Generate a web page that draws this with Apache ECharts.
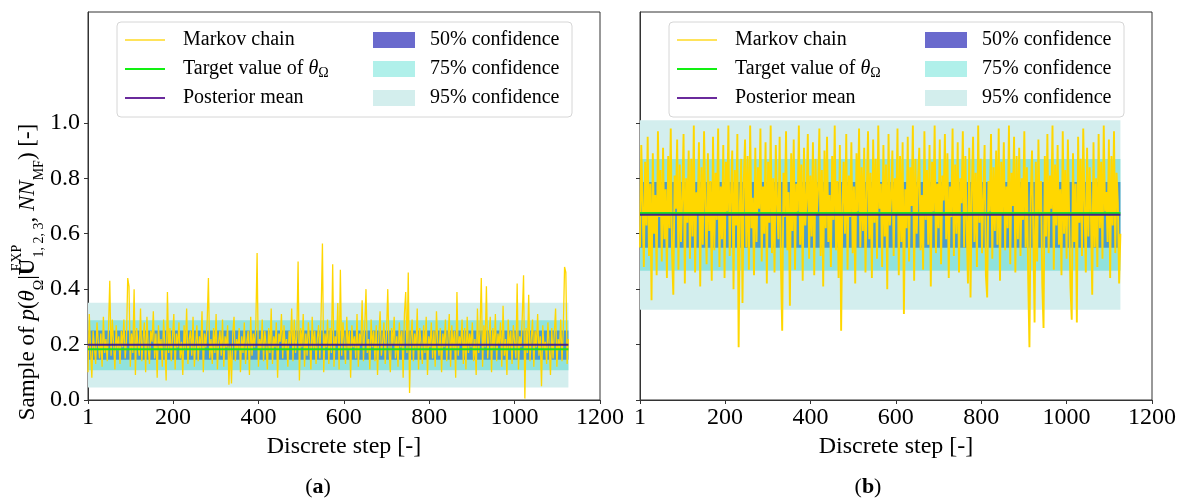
<!DOCTYPE html>
<html>
<head>
<meta charset="utf-8">
<script src="https://cdn.jsdelivr.net/npm/echarts@6/dist/echarts.min.js"></script>
<style>
  html, body { margin: 0; background: #fff; }
  #chart { width: 1182px; height: 500px; }
</style>
</head>
<body>
<div id="chart"></div>
<script>
/* MCMC trace plots (a) / (b): chain + confidence bands + target / posterior mean */
(function () {
  'use strict';

  // chain values, read every 3rd step (step = 1, 4, 7, ...)
  var STEP_EVERY = 3;
  var chainA = [
    0.10,0.31,0.18,0.08,0.25,0.19,0.13,0.28,0.21,0.15,0.24,0.12,0.30,0.17,0.22,0.14,0.26,0.43,0.16,0.29,
    0.20,0.11,0.27,0.18,0.23,0.13,0.25,0.19,0.29,0.15,0.21,0.44,0.41,0.12,0.24,0.17,0.40,0.09,0.26,0.20,
    0.16,0.33,0.14,0.22,0.28,0.10,0.30,0.19,0.13,0.25,0.21,0.32,0.15,0.24,0.08,0.27,0.18,0.22,0.12,0.29,
    0.20,0.07,0.39,0.17,0.26,0.14,0.23,0.31,0.11,0.24,0.19,0.28,0.15,0.21,0.09,0.27,0.18,0.33,0.13,0.22,
    0.25,0.16,0.30,0.12,0.20,0.27,0.14,0.23,0.18,0.32,0.10,0.24,0.19,0.28,0.44,0.15,0.22,0.13,0.26,0.17,
    0.31,0.11,0.21,0.25,0.16,0.29,0.12,0.23,0.19,0.27,0.055,0.20,0.06,0.24,0.30,0.14,0.22,0.18,0.26,0.10,
    0.23,0.17,0.28,0.13,0.21,0.25,0.09,0.30,0.16,0.24,0.19,0.27,0.53,0.12,0.22,0.18,0.29,0.14,0.25,0.20,
    0.11,0.26,0.17,0.33,0.13,0.23,0.19,0.28,0.08,0.24,0.21,0.31,0.15,0.27,0.18,0.22,0.12,0.25,0.20,0.33,
    0.14,0.29,0.17,0.23,0.50,0.07,0.26,0.19,0.31,0.12,0.24,0.16,0.28,0.21,0.11,0.30,0.18,0.25,0.13,0.22,
    0.27,0.15,0.32,0.565,0.10,0.24,0.19,0.29,0.13,0.26,0.17,0.49,0.12,0.23,0.20,0.35,0.11,0.47,0.16,0.28,
    0.21,0.13,0.30,0.18,0.25,0.08,0.27,0.19,0.23,0.15,0.31,0.12,0.24,0.20,0.36,0.14,0.26,0.40,0.17,0.22,
    0.11,0.29,0.19,0.25,0.14,0.27,0.09,0.23,0.32,0.16,0.21,0.28,0.13,0.24,0.40,0.18,0.10,0.26,0.20,0.30,
    0.15,0.23,0.12,0.28,0.19,0.25,0.08,0.31,0.39,0.17,0.46,0.025,0.22,0.29,0.14,0.24,0.18,0.33,0.11,0.26,
    0.20,0.13,0.27,0.17,0.30,0.09,0.23,0.19,0.28,0.15,0.25,0.12,0.32,0.21,0.16,0.26,0.10,0.24,0.19,0.29,
    0.14,0.22,0.31,0.12,0.27,0.18,0.25,0.08,0.39,0.16,0.23,0.20,0.29,0.13,0.26,0.11,0.30,0.17,0.24,0.19,
    0.28,0.14,0.22,0.09,0.33,0.17,0.25,0.44,0.12,0.27,0.19,0.41,0.15,0.23,0.30,0.10,0.26,0.18,0.31,0.14,
    0.24,0.20,0.28,0.12,0.34,0.16,0.22,0.09,0.29,0.18,0.25,0.13,0.27,0.21,0.15,0.42,0.11,0.23,0.19,0.30,
    0.45,0.005,0.26,0.17,0.38,0.14,0.22,0.29,0.12,0.25,0.19,0.31,0.16,0.23,0.05,0.27,0.18,0.21,0.13,0.28,
    0.20,0.09,0.26,0.15,0.24,0.33,0.12,0.22,0.18,0.29,0.14,0.25,0.48,0.46,0.13,0.22
  ];
  var chainB = [
    0.55,0.92,0.71,0.48,0.86,0.63,0.95,0.52,0.78,0.36,0.89,0.60,0.74,0.45,0.97,0.66,0.83,0.50,0.91,0.58,
    0.76,0.44,0.88,0.62,0.98,0.53,0.38,0.81,0.69,0.94,0.47,0.85,0.57,0.73,0.96,0.42,0.80,0.64,0.90,0.51,
    0.87,0.59,0.99,0.46,0.75,0.67,0.93,0.41,0.84,0.56,0.97,0.70,0.49,0.89,0.61,0.79,0.43,0.95,0.54,0.82,
    0.65,0.98,0.48,0.77,0.58,0.92,0.44,0.86,0.68,0.99,0.52,0.74,0.90,0.40,0.83,0.63,0.96,0.19,0.71,0.87,
    0.35,0.79,0.94,0.55,0.88,0.47,0.99,0.62,0.73,0.45,0.91,0.57,0.84,0.69,0.98,0.50,0.77,0.60,0.93,0.42,
    0.86,0.64,0.99,0.53,0.80,0.46,0.92,0.71,0.58,0.95,0.49,0.25,0.82,0.66,0.97,0.54,0.75,0.34,0.89,0.61,
    0.94,0.47,0.78,0.68,0.99,0.56,0.85,0.43,0.91,0.63,0.72,0.96,0.51,0.81,0.59,0.93,0.45,0.87,0.67,0.76,
    0.98,0.52,0.83,0.41,0.90,0.62,0.95,0.57,0.74,0.48,0.88,0.65,0.99,0.54,0.79,0.44,0.92,0.25,0.70,0.86,
    0.60,0.96,0.47,0.81,0.66,0.93,0.53,0.77,0.42,0.89,0.68,0.98,0.55,0.84,0.61,0.91,0.46,0.75,0.97,0.58,
    0.82,0.44,0.94,0.64,0.87,0.51,0.99,0.69,0.78,0.48,0.92,0.59,0.85,0.40,0.96,0.63,0.73,0.90,0.52,0.80,
    0.67,0.98,0.45,0.88,0.57,0.93,0.31,0.76,0.62,0.95,0.50,0.84,0.70,0.99,0.43,0.87,0.60,0.79,0.91,0.54,
    0.74,0.47,0.97,0.65,0.83,0.56,0.92,0.41,0.86,0.68,0.99,0.53,0.78,0.62,0.94,0.49,0.81,0.72,0.96,0.58,
    0.89,0.44,0.77,0.66,0.98,0.52,0.85,0.60,0.93,0.46,0.80,0.71,0.97,0.55,0.88,0.63,0.42,0.91,0.37,0.75,
    0.95,0.57,0.82,0.48,0.99,0.64,0.87,0.53,0.74,0.92,0.45,0.37,0.79,0.68,0.96,0.51,0.84,0.61,0.90,0.56,
    0.98,0.43,0.86,0.67,0.93,0.54,0.77,0.62,0.99,0.49,0.82,0.70,0.95,0.46,0.88,0.58,0.91,0.52,0.80,0.65,
    0.97,0.55,0.84,0.44,0.19,0.73,0.90,0.61,0.28,0.86,0.50,0.94,0.67,0.79,0.42,0.26,0.88,0.59,0.96,0.53,
    0.81,0.69,0.99,0.47,0.85,0.63,0.92,0.56,0.76,0.45,0.97,0.60,0.83,0.51,0.94,0.66,0.41,0.29,0.89,0.57,
    0.78,0.28,0.95,0.64,0.87,0.52,0.98,0.70,0.46,0.91,0.59,0.84,0.67,0.38,0.93,0.55,0.80,0.48,0.96,0.62,
    0.86,0.51,0.99,0.68,0.75,0.57,0.94,0.44,0.88,0.63,0.97,0.53,0.82,0.71,0.42,0.60
  ];

  // confidence bands [low, high]
  var band95A = [0.045, 0.351], band75A = [0.107, 0.288], band50A = [0.145, 0.251];
  var band95B = [0.326, 1.009], band75B = [0.466, 0.870], band50B = [0.549, 0.787];
  var targetA = 0.183, meanA = 0.199;
  var targetB = 0.675, meanB = 0.668;
  var lastStep = 1126;

  var xTicks = [1, 200, 400, 600, 800, 1000, 1200];
  var yTicks = [0, 0.2, 0.4, 0.6, 0.8, 1.0];

  var SERIF = 'Liberation Serif, Times New Roman, serif';
  var INK = '#000';
  var AXIS = '#333';

  var LABELS = {
    chain: 'Markov chain',
    target: 'Target value of {i|θ}{s|Ω}',
    mean: 'Posterior mean',
    c50: '50% confidence',
    c75: '75% confidence',
    c95: '95% confidence'
  };

  var chart = echarts.init(document.getElementById('chart'), null, { renderer: 'canvas' });

  function pairs(vals) {
    return vals.map(function (v, i) { return [1 + i * STEP_EVERY, v]; });
  }

  function bandSeries(name, idx, band, color) {
    return {
      name: name, type: 'line', xAxisIndex: idx, yAxisIndex: idx,
      data: [], symbol: 'none', silent: true,
      markArea: {
        silent: true,
        itemStyle: { color: color, opacity: 1 },
        data: [[{ coord: [1, band[0]] }, { coord: [lastStep, band[1]] }]]
      }
    };
  }

  function flat(name, idx, v, color, z) {
    return {
      name: name, type: 'line', xAxisIndex: idx, yAxisIndex: idx, z: z,
      data: [[1, v], [lastStep, v]], symbol: 'none', silent: true,
      lineStyle: { color: color, width: 2 }, itemStyle: { color: color }
    };
  }

  // chain B jumps much more, so its trace covers more of the band
  function panelSeries(idx, chain, b95, b75, b50, target, mean, chainWidth) {
    return [
      bandSeries('c95', idx, b95, '#d3eeee'),
      bandSeries('c75', idx, b75, '#90e2dc'),
      bandSeries('c50', idx, b50, '#4c9cc8'),
      {
        name: 'chain', type: 'line', xAxisIndex: idx, yAxisIndex: idx, z: 2,
        data: pairs(chain), symbol: 'none', silent: true,
        lineStyle: { color: '#ffd700', width: chainWidth }, itemStyle: { color: '#ffd700' }
      },
      flat('target', idx, target, '#1ee01e', 3),
      flat('mean', idx, mean, '#4a1f86', 4)
    ];
  }

  function xAxis(idx) {
    return {
      type: 'value', gridIndex: idx, min: 1, max: 1200,
      axisLine: { show: true, lineStyle: { color: AXIS, width: 1 } },
      axisTick: { show: true, customValues: xTicks, length: 4, lineStyle: { color: AXIS } },
      axisLabel: {
        customValues: xTicks, fontFamily: SERIF, fontSize: 24, color: INK, margin: 6,
        formatter: function (v) { return String(v); }
      },
      splitLine: { show: false },
      name: 'Discrete step [-]', nameLocation: 'middle', nameGap: 28,
      nameTextStyle: { fontFamily: SERIF, fontSize: 24, color: INK }
    };
  }

  function yAxis(idx, showLabels) {
    return {
      type: 'value', gridIndex: idx, min: 0, max: 1.4,
      axisLine: { show: true, lineStyle: { color: AXIS, width: 1 } },
      axisTick: { show: true, customValues: yTicks, length: 4, lineStyle: { color: AXIS } },
      axisLabel: {
        show: showLabels, customValues: yTicks, fontFamily: SERIF, fontSize: 24, color: INK, margin: 8,
        formatter: function (v) { return v.toFixed(1); }
      },
      splitLine: { show: false }
    };
  }

  var legendText = {
    fontFamily: SERIF, fontSize: 20, color: INK, lineHeight: 22,
    rich: {
      i: { fontFamily: SERIF, fontSize: 20, fontStyle: 'italic', lineHeight: 22 },
      s: { fontFamily: SERIF, fontSize: 14, verticalAlign: 'bottom', lineHeight: 22 }
    }
  };
  var fmt = function (n) { return LABELS[n]; };

  function lineLegend(left) {
    return {
      left: left, top: 29, orient: 'vertical', padding: 0, itemGap: 7, z: 10,
      itemWidth: 40, itemHeight: 2, icon: 'rect', selectedMode: false,
      formatter: fmt,
      textStyle: Object.assign({ padding: [0, 0, 0, 13] }, legendText),
      data: [
        { name: 'chain', itemStyle: { color: '#ffe35a' } },
        { name: 'target', itemStyle: { color: '#12f012' } },
        { name: 'mean', itemStyle: { color: '#6a2a9c' } }
      ]
    };
  }
  function patchLegend(left) {
    return {
      left: left, top: 29, orient: 'vertical', padding: 0, itemGap: 7, z: 10,
      itemWidth: 42, itemHeight: 16, icon: 'rect', selectedMode: false,
      formatter: fmt,
      textStyle: Object.assign({ padding: [0, 0, 0, 10] }, legendText),
      data: [
        { name: 'c50', itemStyle: { color: '#6a6acd' } },
        { name: 'c75', itemStyle: { color: '#b0f0ea' } },
        { name: 'c95', itemStyle: { color: '#d3eeed' } }
      ]
    };
  }

  function legendBox(x) {
    return {
      type: 'rect', z: 3, silent: true,
      shape: { x: x, y: 22, width: 455, height: 95, r: 4 },
      style: { fill: 'rgba(255,255,255,0.85)', stroke: '#d6d6d6', lineWidth: 1 }
    };
  }

  function caption(x, letter) {
    return {
      type: 'text', x: x, y: 487, silent: true,
      style: {
        text: '({b|' + letter + '})', fontFamily: SERIF, fontSize: 22, fill: INK,
        align: 'center', verticalAlign: 'middle',
        rich: { b: { fontFamily: SERIF, fontSize: 22, fontWeight: 'bold' } }
      }
    };
  }

  var grids = [
    { left: 88, top: 12, width: 512, height: 388, show: true, borderColor: AXIS, borderWidth: 1 },
    { left: 640, top: 12, width: 512, height: 388, show: true, borderColor: AXIS, borderWidth: 1 }
  ];

  chart.setOption({
    animation: false,
    backgroundColor: '#fff',
    grid: grids,
    xAxis: [xAxis(0), xAxis(1)],
    yAxis: [yAxis(0, true), yAxis(1, false)],
    legend: [lineLegend(125), patchLegend(373), lineLegend(677), patchLegend(925)],
    graphic: [
      legendBox(117),
      legendBox(669),
      {
        type: 'text', x: 28, y: 272, rotation: Math.PI / 2, silent: true,
        style: {
          text: 'Sample of {i|p}({i|θ}{s|Ω}|{b|U}{sp|EXP}{s|1, 2, 3}, {i|NN}{s|MF}) [-]',
          fontFamily: SERIF, fontSize: 23, fill: INK, align: 'center', verticalAlign: 'middle',
          lineHeight: 36,
          rich: {
            i: { fontFamily: SERIF, fontSize: 23, fontStyle: 'italic', lineHeight: 36 },
            b: { fontFamily: SERIF, fontSize: 23, fontWeight: 'bold', lineHeight: 36 },
            s: { fontFamily: SERIF, fontSize: 14, verticalAlign: 'bottom', lineHeight: 36 },
            sp: { fontFamily: SERIF, fontSize: 14, verticalAlign: 'top', lineHeight: 36, width: 1, align: 'left' }
          }
        }
      },
      caption(318, 'a'),
      caption(868, 'b')
    ],
    series: panelSeries(0, chainA, band95A, band75A, band50A, targetA, meanA, 1.3)
      .concat(panelSeries(1, chainB, band95B, band75B, band50B, targetB, meanB, 1.9))
  });
})();
</script>
</body>
</html>
